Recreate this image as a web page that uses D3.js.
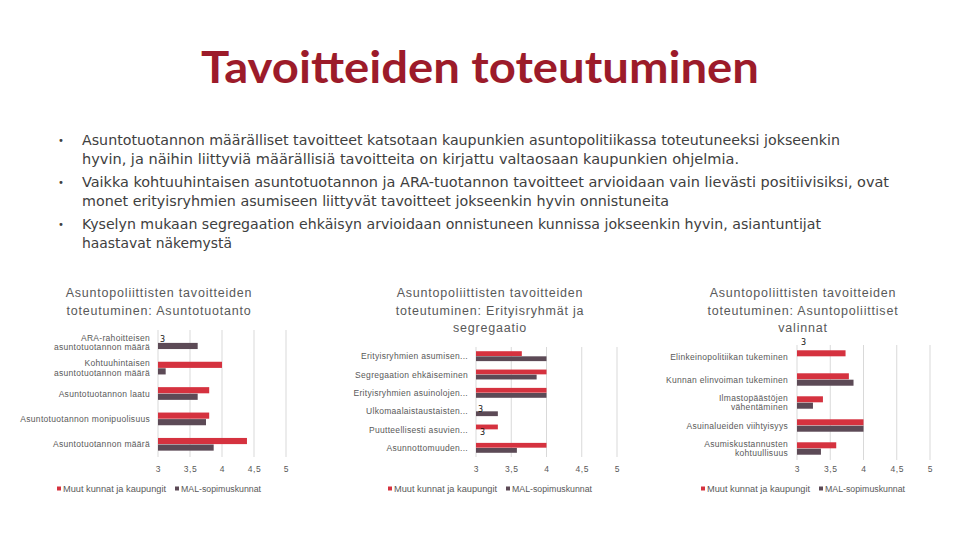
<!DOCTYPE html>
<html>
<head>
<meta charset="utf-8">
<script src="https://cdn.jsdelivr.net/npm/d3@7"></script>
<style>
  body { margin: 0; background: #fff; }
  svg { display: block; }
</style>
</head>
<body>
<script>
// data
var seriesNames = ["Muut kunnat ja kaupungit", "MAL-sopimuskunnat"];
var tickValues = [3, 3.5, 4, 4.5, 5];
var tickLabels = ["3", "3,5", "4", "4,5", "5"];

var c1Categories = ["ARA-rahoitteisen\nasuntotuotannon määrä", "Kohtuuhintaisen\nasuntotuotannon määrä",
  "Asuntotuotannon laatu", "Asuntotuotannon monipuolisuus", "Asuntotuotannon määrä"];
var c1Muut = [3, 4.0, 3.8, 3.8, 4.39];
var c1Mal = [3.62, 3.12, 3.62, 3.75, 3.87];

var c2Categories = ["Erityisryhmien asumisen...", "Segregaation ehkäiseminen", "Erityisryhmien asuinolojen...",
  "Ulkomaalaistaustaisten...", "Puutteellisesti asuvien...", "Asunnottomuuden..."];
var c2Muut = [3.65, 4.0, 4.0, 3, 3.31, 4.0];
var c2Mal = [4.0, 3.86, 4.0, 3.31, 3, 3.58];

var c3Categories = ["Elinkeinopolitiikan tukeminen", "Kunnan elinvoiman tukeminen", "Ilmastopäästöjen\nvähentäminen",
  "Asuinalueiden viihtyisyys", "Asumiskustannusten\nkohtuullisuus"];
var c3Muut = [3.73, 3.78, 3.39, 4.0, 3.59];
var c3Mal = [3, 3.85, 3.24, 4.0, 3.36];

var c1Title = ["Asuntopoliittisten tavoitteiden", "toteutuminen: Asuntotuotanto"];
var c2Title = ["Asuntopoliittisten tavoitteiden", "toteutuminen: Erityisryhmät ja", "segregaatio"];
var c3Title = ["Asuntopoliittisten tavoitteiden", "toteutuminen: Asuntopoliittiset", "valinnat"];

var pageTitle = "Tavoitteiden toteutuminen";
var bullets = [
  ["Asuntotuotannon määrälliset tavoitteet katsotaan kaupunkien asuntopolitiikassa toteutuneeksi jokseenkin",
   "hyvin, ja näihin liittyviä määrällisiä tavoitteita on kirjattu valtaosaan kaupunkien ohjelmia."],
  ["Vaikka kohtuuhintaisen asuntotuotannon ja ARA-tuotannon tavoitteet arvioidaan vain lievästi positiivisiksi, ovat",
   "monet erityisryhmien asumiseen liittyvät tavoitteet jokseenkin hyvin onnistuneita"],
  ["Kyselyn mukaan segregaation ehkäisyn arvioidaan onnistuneen kunnissa jokseenkin hyvin, asiantuntijat",
   "haastavat näkemystä"]
];

var colors = ["#d5323f", "#5c4a56"];
var textGrey = "#595959";

var width = 960, height = 540;

var svg = d3.select("body").append("svg")
  .attr("width", width)
  .attr("height", height);

// page title
svg.append("text")
  .attr("x", 480)
  .attr("y", 83)
  .attr("text-anchor", "middle")
  .attr("textLength", 558)
  .attr("lengthAdjust", "spacingAndGlyphs")
  .style("font-family", "Lato, 'Open Sans', sans-serif")
  .style("font-weight", "bold")
  .style("font-size", "43px")
  .style("fill", "#9c1b2a")
  .text(pageTitle);

// bullet list
var lineEnds = [[840, 739], [889, 669], [821, 232]];
var bulletTop = [145, 187, 229];
bullets.forEach(function (lines, i) {
  svg.append("text")
    .attr("x", 58)
    .attr("y", bulletTop[i] - 1)
    .style("font-family", "'DejaVu Sans', sans-serif")
    .style("font-size", "10px")
    .style("fill", "#404040")
    .text("•");
  lines.forEach(function (line, j) {
    svg.append("text")
      .attr("x", 82)
      .attr("y", bulletTop[i] + j * 18.5)
      .attr("textLength", lineEnds[i][j] - 82)
      .attr("lengthAdjust", "spacingAndGlyphs")
      .style("font-family", "'DejaVu Sans Condensed', 'DejaVu Sans', sans-serif")
      .style("font-size", "13.5px")
      .style("fill", "#404040")
      .text(line);
  });
});

// the three small bar charts
var panels = [
  { cats: c1Categories, muut: c1Muut, mal: c1Mal, title: c1Title, center: 159,
    x0: 158, x1: 286, y0: 330, y1: 457, pad: 0.5, labelGap: 8, zeroDy: 0 },
  { cats: c2Categories, muut: c2Muut, mal: c2Mal, title: c2Title, center: 490,
    x0: 476, x1: 617, y0: 347, y1: 457, pad: 0.46, labelGap: 8, zeroDy: 0 },
  { cats: c3Categories, muut: c3Muut, mal: c3Mal, title: c3Title, center: 803,
    x0: 797, x1: 930, y0: 345, y1: 460, pad: 0.46, labelGap: 9, zeroDy: -18 }
];

panels.forEach(drawPanel);

function drawPanel(p) {
  var g = svg.append("g");

  var x = d3.scaleLinear().domain([3, 5]).range([p.x0, p.x1]);
  var y = d3.scaleBand().domain(p.cats).range([p.y0, p.y1])
    .paddingInner(p.pad).paddingOuter(p.pad / 2);
  var ySub = d3.scaleBand().domain([0, 1]).range([0, y.bandwidth()]).paddingInner(0.06);

  // chart title
  g.append("text")
    .attr("text-anchor", "middle")
    .style("font-family", "'Liberation Sans', Arial, sans-serif")
    .style("font-size", "12.5px")
    .style("letter-spacing", "0.8px")
    .style("fill", textGrey)
    .selectAll("tspan")
    .data(p.title)
    .enter().append("tspan")
    .attr("x", p.center)
    .attr("y", function (d, i) { return 297 + i * 17.5; })
    .text(function (d) { return d; });

  // gridlines
  g.append("g")
    .selectAll("line")
    .data(tickValues)
    .enter().append("line")
    .attr("x1", function (d) { return x(d); })
    .attr("x2", function (d) { return x(d); })
    .attr("y1", p.y0)
    .attr("y2", p.y1)
    .style("stroke", "#d9d9d9")
    .style("stroke-width", 1);

  // x axis tick labels
  var axis = d3.axisBottom(x)
    .tickValues(tickValues)
    .tickSize(0)
    .tickPadding(0)
    .tickFormat(function (d, i) { return tickLabels[i]; });
  var ax = g.append("g")
    .attr("transform", "translate(0," + 466 + ")")
    .call(axis);
  ax.select(".domain").remove();
  ax.selectAll("text")
    .style("font-family", "'Liberation Sans', Arial, sans-serif")
    .style("font-size", "8.5px")
    .style("letter-spacing", "0.6px")
    .style("fill", textGrey);

  // bars
  var rows = p.cats.map(function (c, i) {
    return { cat: c, values: [p.muut[i], p.mal[i]] };
  });
  var row = g.selectAll(".row")
    .data(rows)
    .enter().append("g")
    .attr("transform", function (d) { return "translate(0," + y(d.cat) + ")"; });

  row.selectAll("rect")
    .data(function (d) { return d.values; })
    .enter().append("rect")
    .attr("x", x(3))
    .attr("y", function (d, i) { return ySub(i); })
    .attr("width", function (d) { return x(d) - x(3); })
    .attr("height", ySub.bandwidth())
    .style("fill", function (d, i) { return colors[i]; });

  // value labels for bars sitting on the axis minimum
  row.selectAll(".zero")
    .data(function (d) { return d.values.map(function (v, i) { return { v: v, i: i }; }); })
    .enter().filter(function (d) { return d.v === 3; })
    .append("text")
    .attr("x", function (d) { return x(3) + 2 + d.i * 2; })
    .attr("y", function (d) { return ySub(d.i) + ySub.bandwidth() / 2 + 3 + p.zeroDy; })
    .style("font-family", "'DejaVu Sans', sans-serif")
    .style("font-size", "8px")
    .style("fill", "#111")
    .text(function (d) { return d.v; });

  // category labels
  var labels = g.selectAll(".cat")
    .data(p.cats)
    .enter().append("text")
    .attr("text-anchor", "end")
    .style("font-family", "'Liberation Sans', Arial, sans-serif")
    .style("font-size", "8.5px")
    .style("letter-spacing", "0.3px")
    .style("fill", textGrey);
  labels.each(function (c) {
    var lines = c.split("\n");
    var mid = y(c) + y.bandwidth() / 2;
    d3.select(this).selectAll("tspan")
      .data(lines)
      .enter().append("tspan")
      .attr("x", p.x0 - p.labelGap)
      .attr("y", function (d, i) { return mid + 3 + (i - (lines.length - 1) / 2) * 9.5; })
      .text(function (d) { return d; });
  });

  // legend
  var leg = g.append("g").attr("transform", "translate(" + (p.center - 102) + ",489)");
  var offs = [0, 118];
  var widths = [103, 80];
  seriesNames.forEach(function (name, i) {
    leg.append("rect")
      .attr("x", offs[i])
      .attr("y", -2.5)
      .attr("width", 4)
      .attr("height", 4)
      .style("fill", colors[i]);
    leg.append("text")
      .attr("x", offs[i] + 6)
      .attr("y", 3)
      .attr("textLength", widths[i])
      .attr("lengthAdjust", "spacingAndGlyphs")
      .style("font-family", "'Liberation Sans', Arial, sans-serif")
      .style("font-size", "8.5px")
      .style("fill", textGrey)
      .text(name);
  });
}
</script>
</body>
</html>
